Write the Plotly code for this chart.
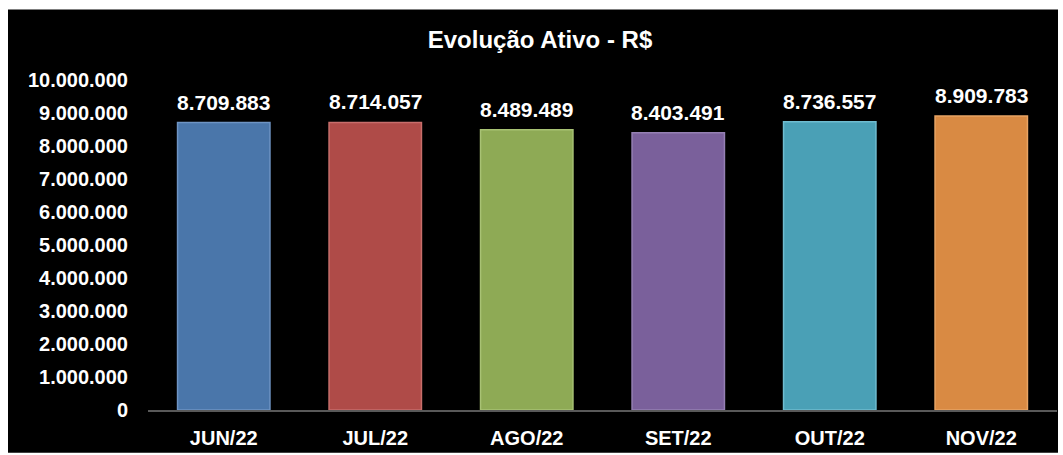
import plotly.graph_objects as go

categories = ["JUN/22", "JUL/22", "AGO/22", "SET/22", "OUT/22", "NOV/22"]
values = [8709883, 8714057, 8489489, 8403491, 8736557, 8909783]
colors = ["#4A76AA", "#AF4B48", "#8EAA55", "#7A609B", "#4AA0B6", "#D98A43"]
edge_colors = ["#6E94C4", "#C86E6B", "#A8C274", "#9580B4", "#6FBCD0", "#E8A464"]
y_ticks = list(range(0, 10000001, 1000000))

W, H = 1063, 455
ML, MR, MT, MB = 148, 6, 80, 43
PW, PH = W - ML - MR, H - MT - MB

def px_x(p):
    return (p - ML) / PW

def px_y(p):
    return (H - MB - p) / PH

FONT = "Arial, Liberation Sans, sans-serif"

fig = go.Figure()
fig.add_trace(go.Bar(
    x=categories, y=values,
    marker=dict(color=colors, line=dict(color=edge_colors, width=1.5)),
    width=0.61,
    hoverinfo="skip",
))

for c, v in zip(categories, values):
    fig.add_annotation(
        x=c, y=v, text="<b>" + f"{v:,}".replace(",", ".") + "</b>",
        showarrow=False, yanchor="bottom", yshift=7,
        font=dict(family=FONT, size=21, color="white"),
    )

# black chart area with white frame (top/left/right)
fig.add_shape(type="rect", xref="paper", yref="paper",
              x0=px_x(8), x1=px_x(1058), y0=px_y(455), y1=px_y(9),
              fillcolor="black", line=dict(width=0), layer="below")

fig.update_layout(
    width=W, height=H,
    margin=dict(l=ML, r=MR, t=MT, b=MB),
    paper_bgcolor="white", plot_bgcolor="black",
    separators=",.",
    showlegend=False,
    title=dict(text="<b>Evolução Ativo - R$</b>", x=540 / W, xanchor="center",
               y=1 - 40 / H, yanchor="middle",
               font=dict(family=FONT, size=24, color="white")),
    xaxis=dict(showgrid=False, showline=True, linecolor="#595959", linewidth=2,
               ticks="outside", ticklen=9, tickcolor="rgba(0,0,0,0)",
               tickfont=dict(family=FONT, size=20, color="white"),
               tickprefix="<b>", ticksuffix="</b>"),
    yaxis=dict(range=[0, 10000000], tickvals=y_ticks,
               ticktext=["<b>" + f"{t:,}".replace(",", ".") + "</b>" for t in y_ticks],
               showgrid=False, zeroline=False, showline=False,
               ticks="outside", ticklen=15, tickcolor="rgba(0,0,0,0)",
               tickfont=dict(family=FONT, size=20, color="white")),
)

fig.write_html("out.html", config={"displayModeBar": False},
               post_script="document.body.style.margin='0';")
